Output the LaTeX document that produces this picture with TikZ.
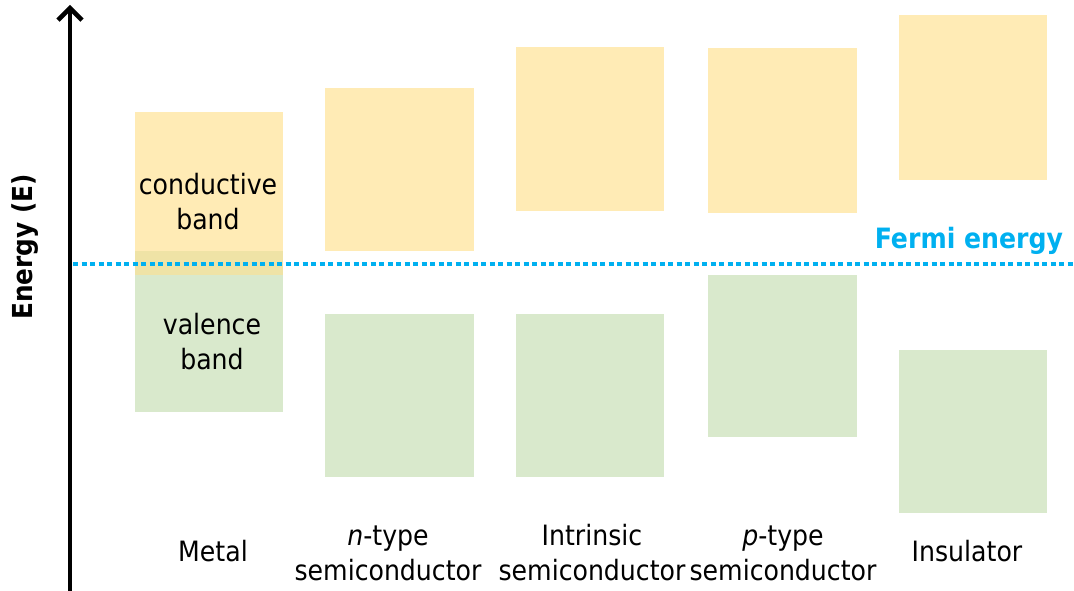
\documentclass[tikz,border=0pt]{standalone}
\usepackage{fontspec}
\setmainfont{DejaVu Sans Condensed}
\usetikzlibrary{arrows.meta}
\definecolor{condband}{HTML}{FFEBB5}
\definecolor{valband}{HTML}{D9E9CC}
\definecolor{overlap}{HTML}{EFE3A6}
\definecolor{fermi}{HTML}{00B0F0}

\begin{document}
\begin{tikzpicture}[x=1pt,y=-1pt,
    bandlabel/.style={align=center,font=\fontsize{28}{35}\selectfont,inner sep=0pt},
    matlabel/.style={align=center,font=\fontsize{28}{35}\selectfont,inner sep=0pt}]
  \useasboundingbox (0,0) rectangle (1074,591);
  \fill[condband] (135,112) rectangle (283,251);
  \fill[overlap] (135,251) rectangle (283,275);
  \fill[valband] (135,275) rectangle (283,412);
  \foreach \xa/\xb/\ca/\cb/\va/\vb in {325/474/88/251/314/477,
      516/664/47/211/314/477, 708/857/48/213/275/437, 899/1047/15/180/350/513}{
    \fill[condband] (\xa,\ca) rectangle (\xb,\cb);
    \fill[valband] (\xa,\va) rectangle (\xb,\vb);
  }
  \coordinate (axisbot) at (70,591);
  \coordinate (axistop) at (70,5);
  \coordinate (fermiL) at (73,264);
  \coordinate (fermiR) at (1074,264);
  \draw[fermi,line width=4pt,dash pattern=on 5pt off 3.5pt] (fermiL) -- (fermiR);
  \draw[line width=4.5pt,-{Straight Barb[length=12pt,width=24pt,line width=4.5pt]}] (axisbot) -- (axistop);
  \node[rotate=90,font=\fontsize{27.5}{34}\selectfont\bfseries,inner sep=0pt] (energy) at (25,247) {Energy (E)};
  \node[text=fermi,font=\fontsize{28}{34}\selectfont\bfseries,inner sep=0pt] (fermilab) at (969,241) {Fermi energy};
  \node[bandlabel] (cond) at (208,202) {conductive\\band};
  \node[bandlabel] (val) at (212,342) {valence\\band};
  \node[matlabel] (metal) at (213,551) {Metal};
  \node[matlabel] (ntype) at (388,553) {\textit{n}-type\\semiconductor};
  \node[matlabel] (intr) at (592,553) {Intrinsic\\semiconductor};
  \node[matlabel] (ptype) at (783,553) {\textit{p}-type\\semiconductor};
  \node[matlabel] (insul) at (967,551) {Insulator};
\end{tikzpicture}
\end{document}
